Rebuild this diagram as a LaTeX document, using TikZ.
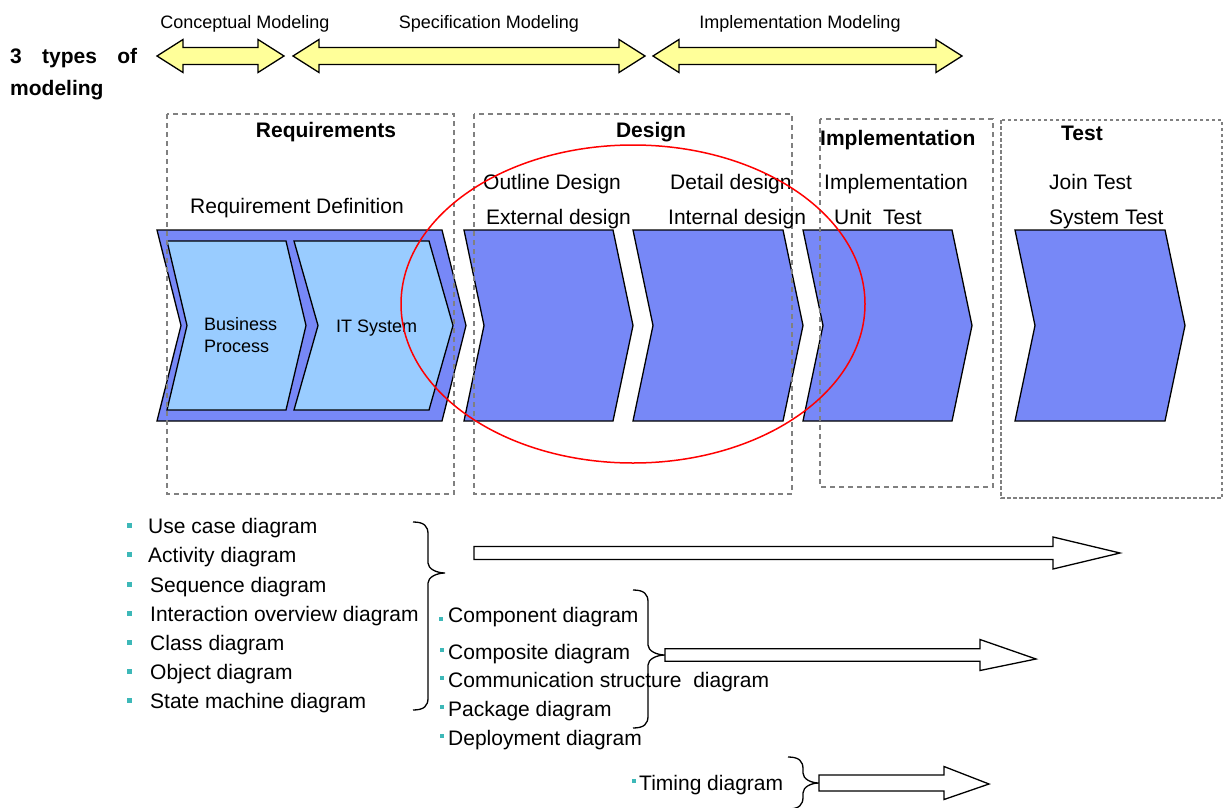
\documentclass[tikz,border=0pt]{standalone}
\usepackage{fontspec}
\setmainfont{Liberation Sans}
\usetikzlibrary{calc}

% chevron: #1 left x, #2 right x (top edge), #3 top y, #4 bottom y, #5 point depth, #6 style
\newcommand\chevron[6]{%
  \draw[#6] (#1,#3) -- (#2,#3) -- ({#2+#5},{(#3+#4)/2}) -- (#2,#4) -- (#1,#4)
    -- ({#1+#5},{(#3+#4)/2}) -- cycle;}
% two-headed block arrow: #1 left tip x, #2 right tip x, #3 centre y
\newcommand\dblarrow[3]{%
  \draw[yarrow] (#1,#3) -- ({#1+26},{#3-16.5}) -- ({#1+26},{#3-8.5}) -- ({#2-26},{#3-8.5})
    -- ({#2-26},{#3-16.5}) -- (#2,#3) -- ({#2-26},{#3+16.5}) -- ({#2-26},{#3+8.5})
    -- ({#1+26},{#3+8.5}) -- ({#1+26},{#3+16.5}) -- cycle;}
% hollow block arrow: #1 tail coordinate, #2 tip coordinate, #3 shaft half, #4 head half, #5 head length
\newcommand\hollowarrow[5]{%
  \draw[harrow] let \p1=(#1), \p2=(#2) in
    (\x1,\y1+#3) -- (\x2-#5,\y1+#3) -- (\x2-#5,\y1+#4) -- (\x2,\y2)
    -- (\x2-#5,\y1-#4) -- (\x2-#5,\y1-#3) -- (\x1,\y1-#3) -- cycle;}
% right curly brace: #1 name prefix, #2 left x, #3 spine x, #4 tip x, #5 top y, #6 tip y, #7 bottom y
\newcommand\curlybrace[7]{%
  \coordinate (#1tip) at (#4,#6);
  \draw[brace] (#2,#5) .. controls ({#3-4},#5) and (#3,{#5+4}) .. (#3,{#5+12})
    -- (#3,{#6-10}) .. controls (#3,{#6-4}) and ({#4-8},#6) .. (#1tip)
    .. controls ({#4-8},#6) and (#3,{#6+4}) .. (#3,{#6+10})
    -- (#3,{#7-12}) .. controls (#3,{#7-4}) and ({#3-4},#7) .. (#2,#7);}

\definecolor{chevblue}{HTML}{7788F7}
\definecolor{chevlight}{HTML}{99CCFF}
\definecolor{arrowyellow}{HTML}{FFFF99}
\definecolor{boxgray}{HTML}{808080}
\definecolor{bulletteal}{HTML}{3DB8B8}

\begin{document}
\begin{tikzpicture}[x=1pt,y=-1pt,
  every node/.style={inner sep=0pt, text depth=0pt},
  txt/.style={font=\fontsize{21}{25}\selectfont, text height=15pt, anchor=west},
  small/.style={font=\fontsize{18}{23}\selectfont, text height=13pt},
  head/.style={font=\fontsize{21}{25}\selectfont\bfseries, text height=15pt},
  chevdark/.style={draw=black, line width=1.3pt, fill=chevblue, line join=miter},
  chevinner/.style={draw=black, line width=1.3pt, fill=chevlight, line join=miter},
  yarrow/.style={draw=black, line width=1.3pt, fill=arrowyellow, line join=miter},
  harrow/.style={draw=black, line width=1.3pt, fill=white, line join=miter},
  brace/.style={draw=black, line width=1.3pt},
  phase/.style={draw=boxgray, line width=2.3pt, dash pattern=on 5pt off 4pt},
  phasethin/.style={draw=boxgray, line width=1.3pt, dash pattern=on 3.5pt off 2.5pt},
  bulletsq/.style={fill=bulletteal, minimum size=5pt, text height=0pt, draw=none}]

\useasboundingbox (0,0) rectangle (1223,808);

% ---- modeling types ----
\node[head, anchor=west] (types) at (10,56) {\makebox[127pt][s]{3 types of}};
\node[head, anchor=west] (modeling) at (10,88) {modeling};

\dblarrow{157}{284}{56}
\dblarrow{293}{645}{56}
\dblarrow{653}{962}{56}
\node[small] (conc) at (245,22) {Conceptual Modeling};
\node[small] (spec) at (489,22) {Specification Modeling};
\node[small] (impm) at (800,22) {Implementation Modeling};

% ---- process chevrons ----
\chevron{157}{442}{230}{421}{24}{chevdark}
\chevron{167}{286}{241}{410}{20}{chevinner}
\chevron{294}{429}{241}{410}{24}{chevinner}
\chevron{464}{613}{230}{421}{20}{chevdark}
\chevron{633}{783}{230}{421}{20}{chevdark}
\chevron{803}{952}{230}{421}{20}{chevdark}
\chevron{1015}{1165}{230}{421}{20}{chevdark}

\node[font=\fontsize{18}{23}\selectfont, anchor=west, align=left] (bp) at (204,335)
  {Business\\[-1pt]Process};
\node[small, anchor=west] (its) at (336,326) {IT System};

% ---- phase frames ----
\draw[phase] (167,114) rectangle (454,494);
\draw[phase] (474,114) rectangle (792,494);
\draw[phase] (820,119) rectangle (993,487);
\draw[phasethin] (1001,120) rectangle (1222,498);

\node[head] (req) at (326,130) {Requirements};
\node[head] (des) at (651,130) {Design};
\node[head, anchor=west] (imp) at (820,138) {Implementation};
\node[head, anchor=west] (tst) at (1061,133) {Test};

\node[txt] (rdef) at (190,206) {Requirement Definition};
\node[txt] (outl) at (483,182) {Outline Design};
\node[txt] (ext) at (486,217) {External design};
\node[txt] (det) at (670,182) {Detail design};
\node[txt] (int) at (668,217) {Internal design};
\node[txt] (impl) at (824,182) {Implementation};
\node[txt] (unit) at (834,217) {Unit\ \ Test};
\node[txt] (join) at (1049,182) {Join Test};
\node[txt] (sys) at (1049,217) {System Test};

% ---- focus ellipse ----
\draw[red, line width=1.5pt] (633,304) ellipse [x radius=232, y radius=159];

% ---- diagram lists ----
\foreach \y/\xt/\t [count=\i] in {526/148/Use case diagram, 555/148/Activity diagram,
    585/150/Sequence diagram, 614/150/Interaction overview diagram,
    643/150/Class diagram, 672/150/Object diagram, 701/150/State machine diagram}{
  \node[bulletsq] (lb\i) at (129,\y-1) {};
  \node[txt] (l\i) at (\xt,\y) {\t};
}
\node[bulletsq, minimum size=4pt] (mb1) at (441,619) {};
\node[txt] (m1) at (448,615) {Component diagram};
\foreach \y/\t [count=\i from 2] in {652/Composite diagram,
    680/Communication structure\ \ diagram, 709/Package diagram, 738/Deployment diagram}{
  \node[bulletsq, minimum size=4pt] (mb\i) at (442,\y-2) {};
  \node[txt] (m\i) at (448,\y) {\t};
}
\node[bulletsq, minimum size=4pt] (tb) at (634,781) {};
\node[txt] (timing) at (639,783) {Timing diagram};

% ---- braces and hollow arrows ----
\curlybrace{bA}{413}{428}{445}{522}{573}{710}
\curlybrace{bB}{633}{648}{665}{590}{655}{728}
\curlybrace{bC}{788}{803}{819}{757}{783}{809}

\coordinate (aAs) at (474,553);  \coordinate (aAe) at (1120,553);
\coordinate (aBe) at (1036,659);
\coordinate (aCe) at (989,784);
\hollowarrow{aAs}{aAe}{6.5}{16}{67}
\hollowarrow{bBtip}{aBe}{6.3}{15.5}{56}
\hollowarrow{bCtip}{aCe}{8}{16.5}{45}
\end{tikzpicture}
\end{document}
